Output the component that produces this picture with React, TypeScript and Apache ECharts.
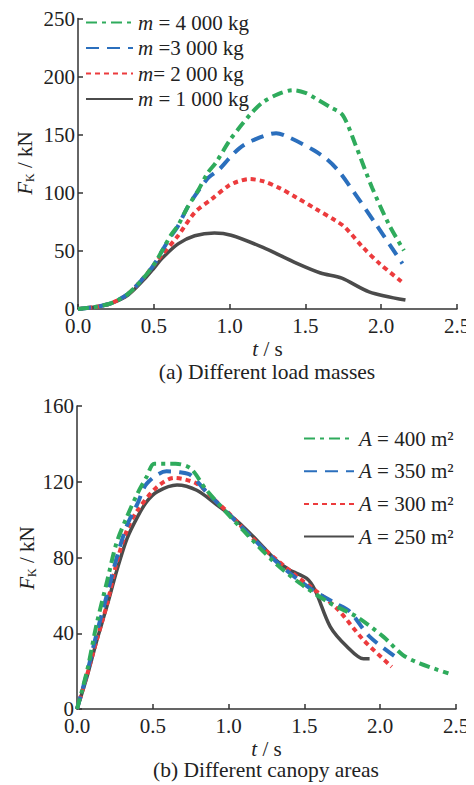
import React, { useEffect, useRef } from "react";
import * as echarts from "echarts";

// ---------- data ----------
const xTicksMax = 2.5;
const yMaxTop = 250;
const yMaxBottom = 160;

const massNames = ["m = 4 000 kg", "m =3 000 kg", "m= 2 000 kg", "m = 1 000 kg"];
const areaNames = ["A = 400 m²", "A = 350 m²", "A = 300 m²", "A = 250 m²"];

// (a) different load masses: [t (s), F (kN)]
const m4000 = [[0,0],[0.1,1.5],[0.15,2.6],[0.22,5],[0.33,13],[0.44,28],[0.5,38],[0.55,49],[0.61,63],[0.66,72],[0.72,87],[0.79,101.5],[0.855,117],[0.91,126],[1.0,145],[1.07,157],[1.14,168],[1.22,178],[1.32,185],[1.416,188.3],[1.5,186],[1.57,181],[1.66,174],[1.745,167],[1.83,141.4],[1.94,104.4],[2.05,73],[2.15,50.3]];
const m3000 = [[0,0],[0.1,1.5],[0.15,2.6],[0.22,5],[0.33,13],[0.44,28],[0.5,38],[0.55,49],[0.61,62],[0.66,71.5],[0.72,87],[0.79,101],[0.86,113],[0.93,120],[1.0,130],[1.066,138.5],[1.15,145],[1.307,151.3],[1.395,147.5],[1.55,137],[1.64,129],[1.72,118.6],[1.83,98.7],[1.965,73],[2.14,39]];
const m2000 = [[0,0],[0.1,1.5],[0.15,2.6],[0.22,5],[0.33,13],[0.44,28],[0.55,46],[0.66,63],[0.77,83],[0.88,94.4],[0.99,105.8],[1.05,109.5],[1.13,111.8],[1.22,110],[1.33,104],[1.44,96],[1.57,86],[1.7,76],[1.76,70.5],[1.88,53],[1.99,39],[2.14,23]];
const m1000 = [[0,0],[0.1,1.5],[0.15,2.6],[0.22,4.8],[0.33,12],[0.44,26],[0.5,35],[0.55,43],[0.66,56],[0.77,63],[0.9,65.4],[1.01,63.5],[1.22,53],[1.44,39.5],[1.6,31],[1.74,26.5],[1.92,14.8],[2.16,7.7]];

// (b) different canopy areas: [t (s), F (kN)]
const a400 = [[0,0],[0.066,20],[0.13,45],[0.2,68],[0.26,87.5],[0.33,101.6],[0.4,114],[0.46,122.7],[0.51,129.5],[0.65,129.5],[0.75,127],[0.85,116],[1.0,102.5],[1.1,94],[1.295,78],[1.47,66.4],[1.67,55.8],[1.845,48.7],[2.02,38.2],[2.15,28.5],[2.26,24.1],[2.45,18.8]];
const a350 = [[0,0],[0.066,19],[0.13,40],[0.2,61],[0.264,80.5],[0.33,97],[0.4,108.6],[0.46,119],[0.59,125.5],[0.68,125],[0.75,123.5],[0.85,115],[1.0,103],[1.2,87],[1.34,76],[1.537,63.7],[1.7,56],[1.8,51.4],[1.93,38.2],[2.13,25.9]];
const a300 = [[0,0],[0.066,18],[0.13,36.4],[0.2,56],[0.264,78],[0.33,94.5],[0.4,105],[0.53,117.4],[0.64,122],[0.79,119],[0.9,111],[1.0,103.5],[1.2,87],[1.45,70],[1.55,64],[1.713,53.2],[1.89,36.4],[2.076,22.3]];
const a250 = [[0,0],[0.066,17],[0.13,36],[0.2,55],[0.264,73.5],[0.33,90],[0.4,101.6],[0.46,109.5],[0.53,114.8],[0.66,118.3],[0.79,115.5],[0.92,108],[1.0,103],[1.1,96],[1.2,88],[1.306,79],[1.4,73.5],[1.515,69],[1.57,62.8],[1.67,43.5],[1.78,33],[1.89,26.5],[1.93,26.5]];

const captions = ["(a) Different load masses", "(b) Different canopy areas"];

// ---------- styles ----------
const FONT = "Liberation Serif";
const TICKFONT = "Times New Roman";
const GREEN = "#2fab5c";
const BLUE = "#2b6fbd";
const RED = "#ec3b3d";
const GRAY = "#4b4b4b";

const styles = [
  { color: GREEN, type: [11, 5, 4, 5], width: 4 },
  { color: BLUE, type: [13, 8], width: 4 },
  { color: RED, type: [5, 4], width: 4 },
  { color: GRAY, type: "solid", width: 3.5 },
];

const rich = {
  i: { fontFamily: FONT, fontStyle: "italic", fontSize: 21, fill: "#222", color: "#222", lineHeight: 22 },
  r: { fontFamily: FONT, fontSize: 21, fill: "#222", color: "#222", lineHeight: 22 },
  s: { fontFamily: FONT, fontSize: 12, fill: "#222", color: "#222", lineHeight: 12, verticalAlign: "bottom" },
};

const legendFmt = (name: string) => `{i|${name[0]}}{r|${name.slice(1)}}`;

// the chart div sits inside the body's default 8px margin
const OFF = 8;

export default function App() {
  const ref = useRef<HTMLDivElement>(null);
  useEffect(() => {
    const chart = echarts.init(ref.current!, null, { renderer: "svg" });

    const xAxis = (gi: number) => ({
      type: "value",
      gridIndex: gi,
      min: 0,
      max: xTicksMax,
      interval: 0.5,
      name: "{i|t}{r| / s}",
      nameLocation: "middle",
      nameGap: 29,
      nameTextStyle: { fontFamily: FONT, fontSize: 21, rich },
      axisLine: { show: true, lineStyle: { color: "#333", width: 1.5 } },
      axisTick: { show: true, inside: true, length: 5, lineStyle: { color: "#333", width: 1.5 } },
      axisLabel: { fontFamily: TICKFONT, fontSize: 21, color: "#222", margin: 6, formatter: (v: number) => v.toFixed(1) },
      splitLine: { show: false },
    });
    const yAxis = (gi: number, max: number, interval: number) => ({
      type: "value",
      gridIndex: gi,
      min: 0,
      max,
      interval,
      axisLine: { show: true, lineStyle: { color: "#333", width: 1.5 } },
      axisTick: { show: true, inside: true, length: 5, lineStyle: { color: "#333", width: 1.5 } },
      axisLabel: { fontFamily: TICKFONT, fontSize: 21, color: "#222", margin: 3 },
      splitLine: { show: false },
    });

    const mk = (name: string, data: number[][], st: any, gi: number) => ({
      type: "line",
      name,
      data,
      xAxisIndex: gi,
      yAxisIndex: gi,
      symbol: "none",
      smooth: 0.3,
      lineStyle: { color: st.color, type: st.type, width: st.width },
      itemStyle: { color: st.color },
      z: 2,
    });

    const topData = [m4000, m3000, m2000, m1000];
    const botData = [a400, a350, a300, a250];
    const series: any[] = [];
    for (let k = 3; k >= 0; k--) series.push(mk(massNames[k], topData[k], styles[k], 0));
    for (let k = 3; k >= 0; k--) series.push(mk(areaNames[k], botData[k], styles[k], 1));

    const yName = (x: number, y: number) => ({
      type: "text",
      x: x - OFF,
      y: y - OFF,
      rotation: Math.PI / 2,
      style: { text: "{i|F}{s|K}{r| / kN}", rich, align: "center", verticalAlign: "middle", fontFamily: FONT, fontSize: 21 },
    });

    chart.setOption({
      animation: false,
      textStyle: { fontFamily: FONT },
      grid: [
        { left: 78 - OFF, top: 16 - OFF, width: 379, height: 293 },
        { left: 77 - OFF, top: 406 - OFF, width: 379, height: 303 },
      ],
      xAxis: [xAxis(0), xAxis(1)],
      yAxis: [yAxis(0, yMaxTop, 50), yAxis(1, yMaxBottom, 40)],
      legend: [
        {
          orient: "vertical",
          left: 80 - OFF,
          top: 7 - OFF,
          itemWidth: 47,
          itemHeight: 4,
          itemGap: 4.5,
          data: massNames,
          formatter: legendFmt,
          textStyle: { fontFamily: FONT, fontSize: 21, rich },
          itemStyle: { opacity: 0 },
          selectedMode: false,
        },
        {
          orient: "vertical",
          left: 298 - OFF,
          top: 423 - OFF,
          itemWidth: 50,
          itemHeight: 4,
          itemGap: 11.7,
          data: areaNames,
          formatter: legendFmt,
          textStyle: { fontFamily: FONT, fontSize: 21, rich },
          itemStyle: { opacity: 0 },
          selectedMode: false,
        },
      ],
      graphic: [
        yName(25, 163),
        yName(27, 558),
        { type: "text", x: 267 - OFF, y: 372 - OFF, style: { text: captions[0], font: `21.5px "${FONT}"`, fill: "#222", align: "center", verticalAlign: "middle" } },
        { type: "text", x: 266 - OFF, y: 770 - OFF, style: { text: captions[1], font: `21.5px "${FONT}"`, fill: "#222", align: "center", verticalAlign: "middle" } },
      ],
      series,
    });
    return () => chart.dispose();
  }, []);
  return <div ref={ref} style={{ width: 474 - OFF, height: 785 - OFF }} />;
}
